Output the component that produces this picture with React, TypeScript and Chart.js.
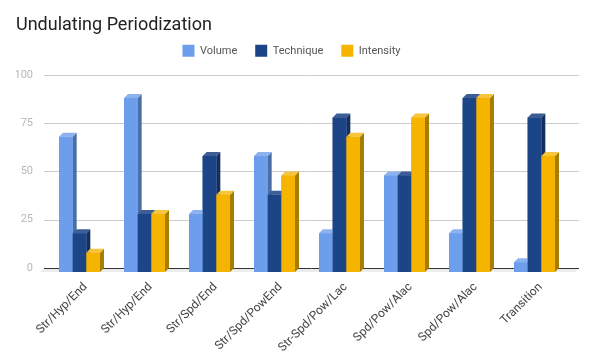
import React, { useEffect, useRef } from "react";
import { Chart, registerables } from "chart.js";

Chart.register(...registerables);

const categories = [
  "Str/Hyp/End",
  "Str/Hyp/End",
  "Str/Spd/End",
  "Str/Spd/PowEnd",
  "Str-Spd/Pow/Lac",
  "Spd/Pow/Alac",
  "Spd/Pow/Alac",
  "Transition",
];
const volume = [70, 90, 30, 60, 20, 50, 20, 5];
const technique = [20, 30, 60, 40, 80, 50, 90, 80];
const intensity = [10, 30, 40, 50, 70, 80, 90, 60];
const seriesNames = ["Volume", "Technique", "Intensity"];
const yTicks = [0, 25, 50, 75, 100];

const FRONT = ["#6d9eeb", "#1c4587", "#f4b400"];
const SIDE = ["#4a6ea6", "#122f5d", "#a67d00"];
const TOP = ["#8cb3f0", "#3c5d96", "#f6c53c"];
const DX = 4;
const DY = 4;
const FONT = "Roboto, 'Noto Sans', sans-serif";

const threeD = {
  id: "threeD",
  beforeDatasetsDraw(chart: any) {
    const { ctx, chartArea } = chart;
    const ys = chart.scales.y;
    const x0 = chartArea.left - 3;
    const x1 = chartArea.right + 12;
    const base = ys.getPixelForValue(0);
    ctx.save();
    // floor
    ctx.fillStyle = "#ececec";
    ctx.beginPath();
    ctx.moveTo(x0 - DX, base);
    ctx.lineTo(x0, base - DY);
    ctx.lineTo(x1, base - DY);
    ctx.lineTo(x1 - DX, base);
    ctx.closePath();
    ctx.fill();
    // back grid
    ctx.lineWidth = 1;
    yTicks.forEach((v) => {
      const y = Math.round(ys.getPixelForValue(v) - DY) + 0.5;
      ctx.strokeStyle = v === 0 ? "#333333" : "#cccccc";
      ctx.beginPath();
      ctx.moveTo(x0, y);
      ctx.lineTo(x1, y);
      ctx.stroke();
    });
    ctx.restore();
  },
  afterDatasetsDraw(chart: any) {
    const { ctx } = chart;
    ctx.save();
    const n = categories.length;
    for (let i = 0; i < n; i++) {
      for (let d = 0; d < 3; d++) {
        const meta = chart.getDatasetMeta(d);
        const el = meta.data[i];
        if (!el) continue;
        const { x, y, base, width } = el.getProps(["x", "y", "base", "width"], true);
        const l = x - width / 2;
        const r = x + width / 2;
        // side
        ctx.fillStyle = SIDE[d];
        ctx.beginPath();
        ctx.moveTo(r, y);
        ctx.lineTo(r + DX, y - DY);
        ctx.lineTo(r + DX, base - DY);
        ctx.lineTo(r, base);
        ctx.closePath();
        ctx.fill();
        // top
        ctx.fillStyle = TOP[d];
        ctx.beginPath();
        ctx.moveTo(l, y);
        ctx.lineTo(l + DX, y - DY);
        ctx.lineTo(r + DX, y - DY);
        ctx.lineTo(r, y);
        ctx.closePath();
        ctx.fill();
        // front
        ctx.fillStyle = FRONT[d];
        ctx.fillRect(l, y, width, base - y);
      }
    }
    ctx.restore();
  },
};

export default function App() {
  const ref = useRef<HTMLCanvasElement | null>(null);
  useEffect(() => {
    if (!ref.current) return;
    const chart = new Chart(ref.current, {
      type: "bar",
      data: {
        labels: categories,
        datasets: [volume, technique, intensity].map((data, d) => ({
          label: seriesNames[d],
          data,
          backgroundColor: FRONT[d],
          borderWidth: 0,
          barPercentage: 1,
          categoryPercentage: 0.63,
        })),
      },
      options: {
        responsive: false,
        animation: false,
        layout: { padding: { left: 16, right: 27, top: 0, bottom: 0 } },
        plugins: {
          title: {
            display: true,
            text: "Undulating Periodization",
            align: "start",
            color: "#222222",
            font: { family: FONT, size: 18, weight: "normal", lineHeight: 0.2 },
            padding: { top: 23.2, bottom: 0 },
          },
          subtitle: {
            display: true,
            text: "",
            weight: 500,
            font: { family: FONT, size: 12, lineHeight: 1 },
            padding: { top: 0, bottom: 0 },
          },
          legend: {
            display: true,
            position: "top",
            align: "center",
            labels: {
              boxWidth: 12,
              boxHeight: 12,
              padding: 18,
              color: "#555555",
              font: { family: FONT, size: 11 },
            },
          },
          tooltip: { enabled: false },
        },
        scales: {
          x: {
            grid: { display: false, drawTicks: false },
            border: { display: false },
            ticks: {
              autoSkip: false,
              minRotation: 45,
              maxRotation: 45,
              padding: 8,
              labelOffset: 6,
              color: "#444444",
              font: { family: FONT, size: 12 },
            },
            afterFit: (s: any) => {
              s.height = 92;
            },
          },
          y: {
            min: 0,
            max: 100,
            grid: { display: false, drawTicks: false },
            border: { display: false },
            ticks: {
              stepSize: 25,
              padding: 14,
              labelOffset: -4,
              color: "#b7b7b7",
              font: { family: FONT, size: 11 },
            },
            afterFit: (s: any) => {
              s.width = 31;
            },
          },
        },
      },
      plugins: [threeD],
    });
    return () => chart.destroy();
  }, []);
  return (
    <div style={{ position: "fixed", left: 0, top: 0, width: 594, height: 364, background: "#fff" }}>
      <canvas ref={ref} width={594} height={364} />
    </div>
  );
}
